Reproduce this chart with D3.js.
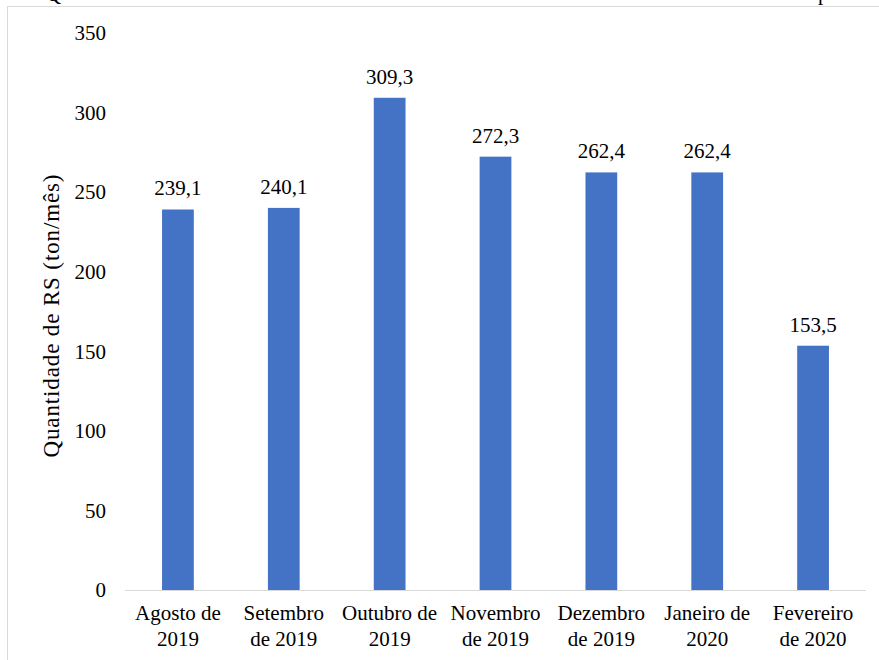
<!DOCTYPE html>
<html>
<head>
<meta charset="utf-8">
<script src="https://cdn.jsdelivr.net/npm/d3@7"></script>
<style>
  body { margin: 0; background: #fff; }
</style>
</head>
<body>
<div id="chart"></div>
<script>
// Chart data
var months     = ["Agosto de|2019", "Setembro|de 2019", "Outubro de|2019", "Novembro|de 2019",
                  "Dezembro|de 2019", "Janeiro de|2020", "Fevereiro|de 2020"],
    quantities = [239.1, 240.1, 309.3, 272.3, 262.4, 262.4, 153.5],
    yTicks     = [0, 50, 100, 150, 200, 250, 300, 350];

var width  = 879,
    height = 660,
    margin = {top: 33, right: 13, bottom: 70, left: 125},
    serif  = "'Liberation Serif', 'Times New Roman', Tinos, 'DejaVu Serif', serif";

var svg = d3.select("#chart")
  .append("svg")
    .attr("width", width)
    .attr("height", height)
    .attr("font-family", serif)
    .attr("font-size", 21);

// Frame lines (top and left only are visible in the crop)
svg.append("line")
   .attr("x1", 7).attr("x2", width).attr("y1", 6.5).attr("y2", 6.5)
   .style("stroke", "#d9d9d9");
svg.append("line")
   .attr("x1", 7.5).attr("x2", 7.5).attr("y1", 6).attr("y2", height)
   .style("stroke", "#d9d9d9");

// Cut-off caption above the frame
svg.append("text").attr("x", 46).attr("y", 1).text("Q");
svg.append("text").attr("x", 818).attr("y", 0).text("p");

var x = d3.scaleBand()
          .domain(months)
          .range([margin.left, width - margin.right]);

var y = d3.scaleLinear()
          .domain([0, 350])
          .range([height - margin.bottom, margin.top]);

var barWidth = x.bandwidth() * 0.3;

// Y tick labels (no axis line, no gridlines)
svg.append("g")
   .selectAll("text")
   .data(yTicks)
   .enter()
   .append("text")
     .attr("x", 106)
     .attr("y", function(d) { return y(d); })
     .attr("dy", "0.35em")
     .attr("text-anchor", "end")
     .text(function(d) { return d; });

// Y axis title, a bit larger and spaced like the original
svg.append("text")
   .attr("transform", "translate(59,316) rotate(-90)")
   .attr("text-anchor", "middle")
   .attr("font-size", 23)
   .attr("textLength", 283)
   .attr("lengthAdjust", "spacing")
   .text("Quantidade de RS (ton/mês)");

// Bars
svg.append("g")
   .selectAll("rect")
   .data(quantities)
   .enter()
   .append("rect")
     .attr("x", function(d, i) { return x(months[i]) + (x.bandwidth() - barWidth) / 2; })
     .attr("y", function(d) { return y(d); })
     .attr("width", barWidth)
     .attr("height", function(d) { return y(0) - y(d); })
     .style("fill", "#4472c4");

// Baseline
svg.append("line")
   .attr("x1", margin.left).attr("x2", width - margin.right)
   .attr("y1", y(0) + 0.5).attr("y2", y(0) + 0.5)
   .style("stroke", "#d9d9d9");

// Value labels
svg.append("g")
   .selectAll("text")
   .data(quantities)
   .enter()
   .append("text")
     .attr("x", function(d, i) { return x(months[i]) + x.bandwidth() / 2; })
     .attr("y", function(d) { return y(d) - 14; })
     .attr("text-anchor", "middle")
     .text(function(d) { return d3.format(".1f")(d).replace(".", ","); });

// Category labels, two lines each
var catLabels = svg.append("g")
   .selectAll("text")
   .data(months)
   .enter()
   .append("text")
     .attr("x", function(d) { return x(d) + x.bandwidth() / 2; })
     .attr("y", 620)
     .attr("text-anchor", "middle");

catLabels.selectAll("tspan")
   .data(function(d) { return d.split("|"); })
   .enter()
   .append("tspan")
     .attr("x", function() { return d3.select(this.parentNode).attr("x"); })
     .attr("dy", function(d, i) { return i ? 26 : 0; })
     .text(function(d) { return d; });
</script>
</body>
</html>
